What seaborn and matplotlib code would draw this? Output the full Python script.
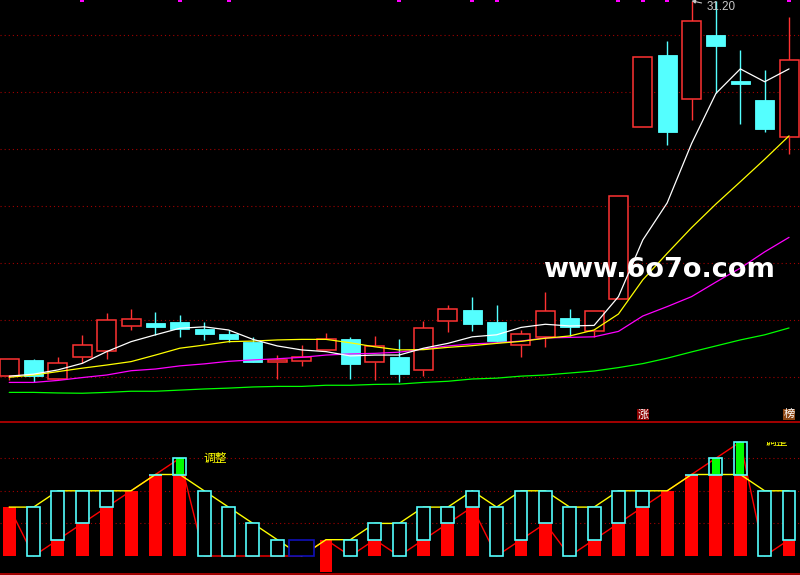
import numpy as np
import matplotlib
matplotlib.use("Agg")
import matplotlib.pyplot as plt
import matplotlib.transforms as mtransforms
from matplotlib.transforms import Bbox
import seaborn as sns

# ---------------- data ----------------
days = list(range(33))
opens = [18.04, 18.60, 17.92, 18.71, 18.90, 19.80, 19.89, 19.93, 19.67, 19.51, 19.24,
         18.54, 18.57, 18.95, 19.32, 18.52, 18.70, 18.24, 19.98, 20.35, 19.93, 19.11,
         19.39, 20.07, 19.62, 20.73, 26.78, 29.30, 27.74, 30.00, 28.39, 27.72, 26.41]
closes = [18.62, 18.05, 18.48, 19.11, 19.99, 20.02, 19.76, 19.69, 19.52, 19.34, 18.54,
          18.60, 18.69, 19.32, 18.47, 19.08, 18.12, 19.71, 20.38, 19.87, 19.26, 19.51,
          20.31, 19.76, 20.31, 24.35, 29.22, 26.61, 30.48, 29.61, 28.28, 26.70, 29.11]
highs = [18.63, 18.63, 18.69, 19.47, 20.25, 20.39, 20.28, 20.18, 19.93, 19.65, 19.39,
         18.77, 19.11, 19.53, 19.40, 19.44, 19.32, 19.98, 20.53, 20.81, 20.53, 19.65,
         20.98, 20.39, 20.32, 24.36, 29.23, 29.79, 31.20, 31.18, 29.47, 28.77, 30.63]
lows = [17.89, 17.83, 17.90, 18.48, 18.63, 19.65, 19.47, 19.41, 19.30, 19.24, 18.52,
        17.93, 18.39, 18.93, 17.93, 17.91, 17.83, 18.04, 19.59, 19.62, 19.22, 18.71,
        19.06, 19.44, 19.39, 20.72, 26.77, 26.14, 27.03, 27.96, 26.88, 26.61, 25.82]

ma5 = [18.03, 18.10, 18.25, 18.48, 18.89, 19.24, 19.48, 19.71, 19.76, 19.65, 19.32,
       19.09, 18.95, 18.89, 18.74, 18.77, 18.77, 19.01, 19.18, 19.41, 19.48, 19.74,
       19.85, 19.79, 19.81, 20.82, 22.81, 24.11, 26.19, 27.95, 28.81, 28.36, 28.81]
ma10 = [17.99, 18.07, 18.19, 18.31, 18.42, 18.54, 18.77, 19.01, 19.12, 19.24, 19.26,
        19.30, 19.32, 19.32, 19.20, 19.06, 18.95, 18.96, 19.04, 19.10, 19.18, 19.25,
        19.36, 19.44, 19.65, 20.21, 21.41, 22.34, 23.24, 24.07, 24.85, 25.64, 26.46]
ma20 = [17.81, 17.81, 17.88, 17.98, 18.07, 18.22, 18.28, 18.39, 18.46, 18.55, 18.60,
        18.64, 18.69, 18.77, 18.81, 18.83, 18.87, 18.98, 19.09, 19.16, 19.20, 19.26,
        19.37, 19.39, 19.41, 19.60, 20.14, 20.47, 20.82, 21.33, 21.82, 22.39, 22.90]
ma60 = [17.46, 17.46, 17.44, 17.43, 17.46, 17.50, 17.50, 17.54, 17.58, 17.61, 17.65,
        17.67, 17.67, 17.71, 17.71, 17.74, 17.75, 17.81, 17.85, 17.93, 17.96, 18.03,
        18.07, 18.14, 18.21, 18.33, 18.47, 18.66, 18.88, 19.09, 19.30, 19.48, 19.72]

price_grid = [30, 28, 26, 24, 22, 20, 18]
max_price = 31.20
max_day = 28
max_label = "31.20"
top_mark_days = [3, 7, 9, 16, 19, 20, 25, 26, 27, 32]
signal_days = [26, 32]
signal_texts = ["涨", "榜"]
signal_colors = ["#8B0000", "#8B4513"]

# lower indicator
count_vals = [3, 0, 1, 2, 3, 4, 5, 6, 0, 0, 0, 0, 0, 1, 0, 1, 0, 1, 2, 3, 0, 1, 2,
              0, 1, 2, 3, 4, 5, 6, 7, 0, 1]
level_vals = [3, 3, 4, 4, 4, 4, 5, 5, 4, 3, 2, 1, 0, 1, 1, 2, 2, 3, 3, 4, 3, 4, 4,
              3, 3, 4, 4, 4, 5, 5, 5, 4, 4]
red_base = [0] * 13 + [-1] + [0] * 19
blue_box_days = [12]
blue_box_tops = [1]
level_grid = [2, 4, 6]
band_top = 5
note_text = "调整"
note_days = [8.47, 31.46]
note_levels = [6.0, 7.0]

# ---------------- style ----------------
sns.set_theme(style="dark", rc={"axes.facecolor": "black",
                                "figure.facecolor": "black",
                                "savefig.facecolor": "black"})
plt.rcParams["font.family"] = ["DejaVu Sans", "Noto Sans CJK SC"]

RED = "#FF3232"
CYAN = "#54FFFF"
GRID = "#A00000"

fig = plt.figure(figsize=(8, 5.75), dpi=100)
ax1 = fig.add_axes([0, 153 / 575, 1, 422 / 575])
ax2 = fig.add_axes([0, 1 / 575, 1, 152 / 575])

XL = (-0.378, 32.45)

# ---------------- upper: candles ----------------
x = np.array(days, dtype=float)
o = np.array(opens); c = np.array(closes); h = np.array(highs); l = np.array(lows)
up = c >= o
dn = ~up
bw = 0.78

ax1.vlines(x[dn], l[dn], h[dn], color=CYAN, lw=1.0, zorder=2)
ax1.bar(x[dn], (o - c)[dn], bottom=c[dn], width=bw, color=CYAN, edgecolor=CYAN,
        lw=0.6, zorder=3)
ax1.vlines(x[up], c[up], h[up], color=RED, lw=1.0, zorder=2)
ax1.vlines(x[up], l[up], o[up], color=RED, lw=1.0, zorder=2)
ax1.bar(x[up], np.maximum((c - o)[up], 0.02), bottom=o[up], width=bw,
        facecolor="black", edgecolor=RED, lw=1.1, zorder=3)

for vals, col in [(ma60, "#00FF00"), (ma20, "#FF00FF"), (ma10, "#FFFF00"), (ma5, "#FFFFFF")]:
    sns.lineplot(x=days, y=vals, color=col, lw=0.9, ax=ax1, zorder=5)

ax1.hlines(price_grid, XL[0], XL[1], colors=GRID, lw=0.8, linestyles=(0, (1, 2.7)), zorder=1)

ax1.annotate(max_label, xy=(max_day, max_price), xytext=(28.6, 30.98), textcoords="data",
             color="#C8C8C8", fontsize=8.4, family=["Liberation Sans"], ha="left", va="center",
             arrowprops=dict(arrowstyle="-|>", color="#C8C8C8", lw=0.8, mutation_scale=5,
                             shrinkA=1, shrinkB=0), zorder=6)

tr1 = mtransforms.blended_transform_factory(ax1.transData, ax1.transAxes)
ax1.scatter(top_mark_days, [1.0] * len(top_mark_days), transform=tr1, marker="s", s=7,
            color="#FF00FF", linewidths=0, clip_on=False, zorder=6)
for d, t, col in zip(signal_days, signal_texts, signal_colors):
    ax1.text(d, 0.006, t, transform=tr1, ha="center", va="bottom", color="white",
             fontsize=8, family=["Noto Sans CJK SC"],
             bbox=dict(boxstyle="square,pad=0.05", fc=col, ec="none"), zorder=6)

ax1.set_xlim(*XL)
ax1.set_ylim(31.228 - 422 / 28.5, 31.228)
ax1.set_xticks([]); ax1.set_yticks([])
ax1.set_xlabel(""); ax1.set_ylabel("")
for s in ax1.spines.values():
    s.set_visible(False)

# ---------------- lower: indicator ----------------
C = np.array(count_vals, float)
Y = np.array(level_vals, float)
B = np.array(red_base, float)
red_top = np.minimum(C, band_top)

sns.lineplot(x=days, y=count_vals, color="#FF0000", lw=1.0, ax=ax2, zorder=1)
m = red_top > B
ax2.bar(x[m], (red_top - B)[m], bottom=B[m], width=0.53, color="#FF0000", lw=0, zorder=2)
sns.lineplot(x=days, y=level_vals, color="#FFFF00", lw=1.0, ax=ax2, zorder=3)
m1 = C < Y
ax2.bar(x[m1], (Y - C)[m1], bottom=C[m1], width=0.53, facecolor="black",
        edgecolor=CYAN, lw=1.2, zorder=4)
m2 = C >= band_top
ax2.bar(x[m2], (C - band_top)[m2], bottom=band_top, width=0.33, color="#00FF00",
        lw=0, zorder=4)
ax2.bar(x[m2], (C - band_top)[m2], bottom=band_top, width=0.53, facecolor="none",
        edgecolor=CYAN, lw=1.2, zorder=5)
ax2.bar(blue_box_days, blue_box_tops, width=1.03, facecolor="black",
        edgecolor="#1010B8", lw=1.2, zorder=4)

ax2.hlines(level_grid, XL[0], XL[1], colors=GRID, lw=0.8, linestyles=(0, (1, 2.7)), zorder=0.5)

t1 = ax2.text(note_days[0], note_levels[0], note_text, color="#FFFF00", fontsize=8.5,
              family=["Noto Sans CJK SC"], ha="center", va="center", zorder=6)
t2 = ax2.text(note_days[1], note_levels[1], note_text, color="#FFFF00", fontsize=8.5,
              family=["Noto Sans CJK SC"], ha="center", va="center", zorder=6)
t2.set_clip_box(Bbox([[0, 0], [800, 575 - 441.7]]))
t2.set_clip_on(True)

ax2.set_xlim(*XL)
ax2.set_ylim((556 - 574) / 16.3, (556 - 422) / 16.3)
ax2.set_xticks([]); ax2.set_yticks([])
ax2.set_xlabel(""); ax2.set_ylabel("")
for k, s in ax2.spines.items():
    if k in ("top", "bottom"):
        s.set_visible(True)
        s.set_color("#C00000")
        s.set_linewidth(1.2)
    else:
        s.set_visible(False)

# watermark
fig.text(543 / 800, (575 - 277) / 575, "www.6o7o.com", color="white", fontsize=19.5,
         fontweight="bold", family=["DejaVu Sans"], ha="left", va="baseline", zorder=10)

fig.savefig("out.png", dpi=100, facecolor="black")
